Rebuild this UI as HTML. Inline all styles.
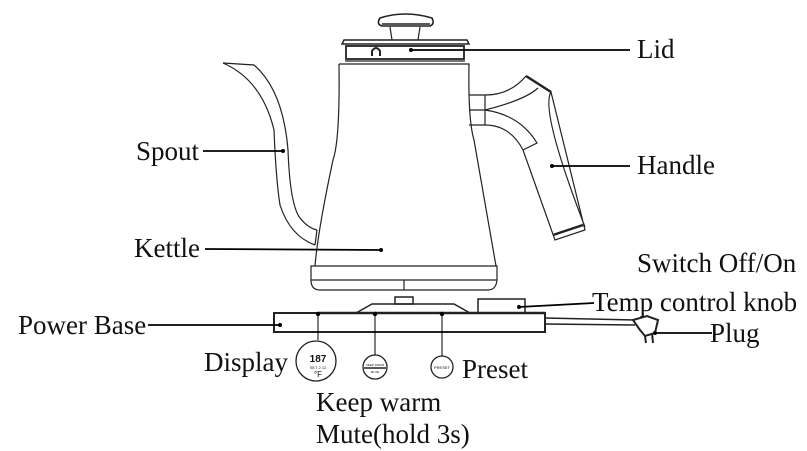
<!DOCTYPE html>
<html><head><meta charset="utf-8"><style>
html,body{margin:0;padding:0;background:#fff;}
svg{display:block;}
text{font-family:"Liberation Serif",serif;font-size:27px;fill:#111;}
</style></head><body>
<svg width="807" height="451" viewBox="0 0 807 451" xmlns="http://www.w3.org/2000/svg">
<g fill="none" stroke="#222" stroke-width="1.2">
<!-- knob -->
<path d="M380,18 Q405,10 432,18 Q435,24 430,26 L382,26 Q376,24 380,18 Z" stroke-width="1.6"/>
<line x1="382" y1="24" x2="430" y2="24" stroke-width="1.5"/>
<path d="M390,27 L392,40 M420,27 L418,40"/>
<!-- lid -->
<path d="M344,40 L467,40 L469,44 L342,44 Z" stroke-width="1.5"/>
<rect x="346" y="46" width="118" height="13" stroke-width="1.8"/>
<path d="M372,56 L372,51 Q376,45 380,51 L380,56" stroke-width="2"/>
<line x1="345" y1="61" x2="465" y2="61"/>
<!-- body -->
<path d="M339,64 L469,64 Q468,120 474,140 L496,266 M339,64 Q340,140 333,160 Q318,230 315,266"/>
<path d="M311,266 L497,266 L497,280 Q496,290 488,290 L320,290 Q311,290 311,280 Z"/>
<line x1="311" y1="280" x2="497" y2="280"/>
<line x1="404" y1="280" x2="404" y2="290"/>
<!-- spout -->
<path d="M223,63 L254,65 Q283,90 288,150 Q290,205 300,218 Q308,228 317,230"/>
<path d="M223,63 Q262,80 274,130 Q276,180 280,205 Q290,236 315,245"/>
<path d="M317,230 L315,245"/>
<!-- handle -->
<path d="M469,95 L485,95 L485,125 L469,125 M469,110 L485,110"/>
<path d="M485,95 Q510,95 526,76 M485,110 Q525,100 538,88 M485,110 Q520,115 537,143 L523,150 M485,125 Q510,125 523,150 L555,240 L585,230 L551,92 Q540,110 585,227"/>
<path d="M526,76 L551,92" stroke-width="2.5"/>
<path d="M553,235 L583,225" stroke-width="2.5"/>
<!-- base -->
<rect x="274" y="313" width="271" height="19" stroke-width="2"/>
<path d="M356,313 L372,304 L454,304 L470,313" stroke-width="1.5"/>
<line x1="318" y1="313" x2="545" y2="313" stroke-width="2.5"/>
<rect x="395" y="297" width="18" height="7" stroke-width="1.5"/>
<rect x="478" y="299" width="47" height="14" stroke-width="1.5"/>
<path d="M545,318 L635,320 M545,324 L635,325" stroke-width="1.5"/>
<path d="M633,320 L647,316 L658,320 L655,333 L645,336 L640,330 Z" stroke-width="2"/>
<path d="M645,336 L646,343 M652,333 L653,343" stroke-width="2"/>
<!-- control circles -->
<circle cx="316" cy="361" r="20" stroke-width="1.3"/>
<circle cx="375" cy="367" r="12" stroke-width="1.3"/>
<line x1="364" y1="368" x2="386" y2="368" stroke-width="1.5"/>
<circle cx="442" cy="367" r="11" stroke-width="1.3"/>
</g>
<!-- leader lines -->
<g stroke="#000" stroke-width="1.8">
<line x1="411" y1="50" x2="630" y2="50"/>
<line x1="203" y1="151" x2="283" y2="151"/>
<line x1="552" y1="166" x2="630" y2="166"/>
<line x1="205" y1="249" x2="381" y2="250"/>
<line x1="148" y1="325" x2="280" y2="325"/>
<line x1="519" y1="307" x2="594" y2="303"/>
<line x1="655" y1="333" x2="712" y2="333"/>
<line x1="318" y1="314" x2="318" y2="340" stroke-width="1"/>
<line x1="375" y1="314" x2="375" y2="355" stroke-width="1"/>
<line x1="442" y1="314" x2="442" y2="356" stroke-width="1"/>
</g>
<g fill="#000">
<circle cx="411" cy="50" r="2"/><circle cx="283" cy="151" r="2"/>
<circle cx="552" cy="166" r="2"/><circle cx="381" cy="250" r="2"/>
<circle cx="280" cy="325" r="2"/><circle cx="519" cy="307" r="2"/>
<circle cx="655" cy="333" r="2"/><circle cx="318" cy="314" r="2.2"/>
<circle cx="375" cy="314" r="2.2"/><circle cx="442" cy="314" r="2.2"/>
</g>
<g fill="#222">
<text x="318" y="362" text-anchor="middle" style="font-family:'Liberation Sans',sans-serif;font-size:10px;font-weight:bold">187</text>
<text x="318" y="369" style="font-family:'Liberation Sans',sans-serif;font-size:4px" text-anchor="middle">SET 2 12</text>
<text x="318" y="377" style="font-family:'Liberation Sans',sans-serif;font-size:8px" text-anchor="middle">°F</text>
<text x="375" y="366" style="font-family:'Liberation Sans',sans-serif;font-size:3px" text-anchor="middle">KEEP WARM</text>
<text x="375" y="373" style="font-family:'Liberation Sans',sans-serif;font-size:3px" text-anchor="middle">MUTE</text>
<text x="442" y="369" style="font-family:'Liberation Sans',sans-serif;font-size:4px" text-anchor="middle">PRESET</text>
</g>
<text x="637" y="58">Lid</text>
<text x="136" y="160">Spout</text>
<text x="637" y="174">Handle</text>
<text x="134" y="257">Kettle</text>
<text x="637" y="272">Switch Off/On</text>
<text x="592" y="311">Temp control knob</text>
<text x="18" y="334">Power Base</text>
<text x="710" y="342">Plug</text>
<text x="204" y="371">Display</text>
<text x="462" y="378">Preset</text>
<text x="316" y="411">Keep warm</text>
<text x="316" y="443">Mute(hold 3s)</text>
</svg>
</body></html>
